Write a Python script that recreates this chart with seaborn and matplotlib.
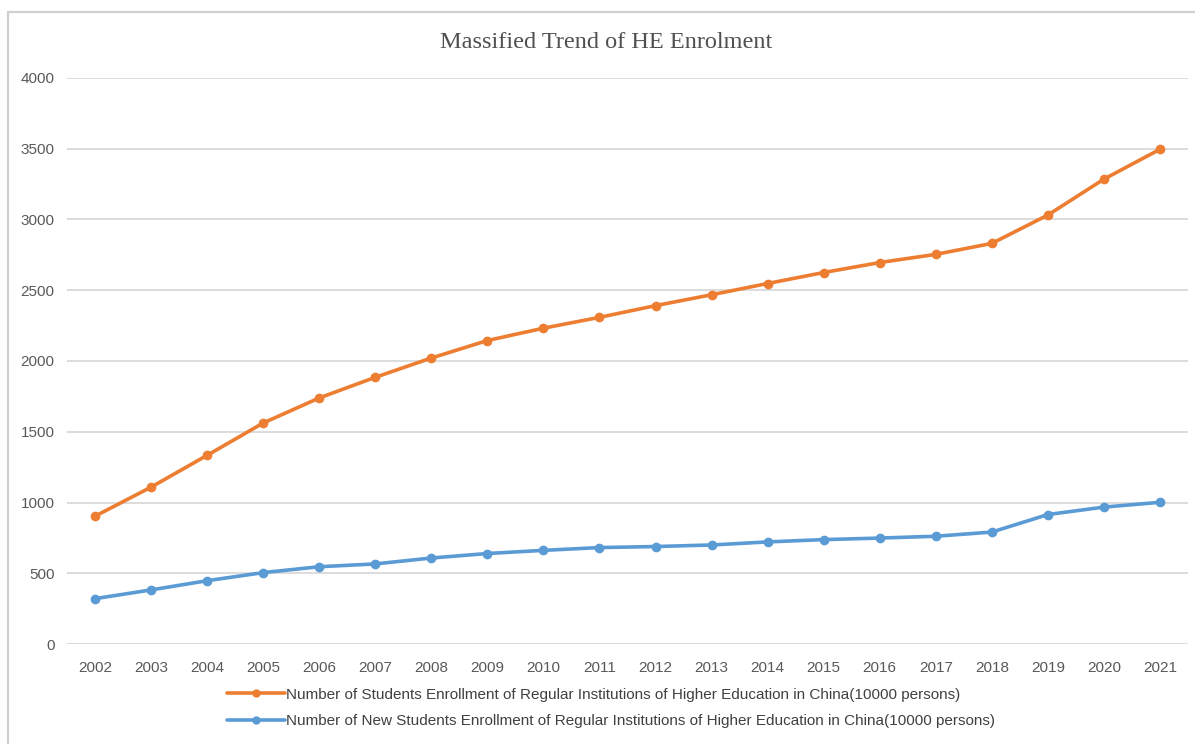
import matplotlib
matplotlib.use("Agg")
import matplotlib.pyplot as plt
import seaborn as sns
import pandas as pd
from matplotlib.lines import Line2D

years = [str(y) for y in range(2002, 2022)]
total_enrol = [903.4, 1108.6, 1333.5, 1561.8, 1738.8, 1884.9, 2021.0, 2144.7, 2231.8, 2308.5,
               2391.3, 2468.1, 2547.7, 2625.3, 2695.8, 2753.6, 2831.0, 3031.5, 3285.3, 3496.1]
new_enrol = [320.5, 382.2, 447.3, 504.5, 546.1, 565.9, 607.7, 639.5, 661.8, 681.5,
             688.8, 699.8, 721.4, 737.8, 748.6, 761.5, 791.0, 914.9, 967.5, 1001.3]
labels = [
    "Number of Students Enrollment of Regular Institutions of Higher Education in China(10000 persons)",
    "Number of New Students Enrollment of Regular Institutions of Higher Education in China(10000 persons)",
]
title = "Massified Trend of HE Enrolment"
yticks = [0, 500, 1000, 1500, 2000, 2500, 3000, 3500, 4000]
colors = ["#ED7D31", "#5B9BD5"]

df = pd.DataFrame({
    "year": years * 2,
    "value": total_enrol + new_enrol,
    "series": [labels[0]] * len(years) + [labels[1]] * len(years),
})

sns.set_theme(style="white")
plt.rcParams["font.family"] = ["Liberation Sans", "DejaVu Sans"]

W, H = 1195, 744
fig = plt.figure(figsize=(W / 100, H / 100), dpi=100)
ax = fig.add_axes([67 / W, 1 - 644 / H, (1188 - 67) / W, (644 - 78) / H])

sns.lineplot(data=df, x="year", y="value", hue="series", palette=colors, marker="o",
             markersize=7, markeredgewidth=0, linewidth=2.6, ax=ax, legend=False, sort=False)

ax.set_ylim(0, 4000)
ax.set_xlim(-0.5, len(years) - 0.5)
ax.set_yticks(yticks)
ax.set_xlabel("")
ax.set_ylabel("")
ax.grid(axis="y", color="#D9D9D9", linewidth=1.3)
ax.set_axisbelow(True)
for s in ax.spines.values():
    s.set_visible(False)
ax.tick_params(axis="both", length=0, labelsize=11, labelcolor="#595959")
ax.tick_params(axis="y", pad=9)
ax.tick_params(axis="x", pad=12)

fig.text(606 / W, 1 - 42 / H, title, ha="center", va="center", fontsize=17.5,
         family=["Liberation Serif", "DejaVu Serif"], color="#505050")

handles = [Line2D([], [], color=c, marker="o", markersize=6, markeredgewidth=0, linewidth=2.6)
           for c in colors]
fig.legend(handles, labels, loc="center", bbox_to_anchor=(611 / W, 1 - 708 / H), ncol=1,
           frameon=False, fontsize=11.0, labelcolor="#404040", handlelength=3.8,
           handletextpad=0.1, labelspacing=0.85)

frame_c = "#D0D0D0"
fig.add_artist(Line2D([8 / W, 8 / W], [0, 1 - 12 / H], color=frame_c, linewidth=1.6,
                      transform=fig.transFigure))
fig.add_artist(Line2D([8 / W, 1], [1 - 12 / H, 1 - 12 / H], color=frame_c, linewidth=1.6,
                      transform=fig.transFigure))

fig.savefig("out.png", dpi=100)
